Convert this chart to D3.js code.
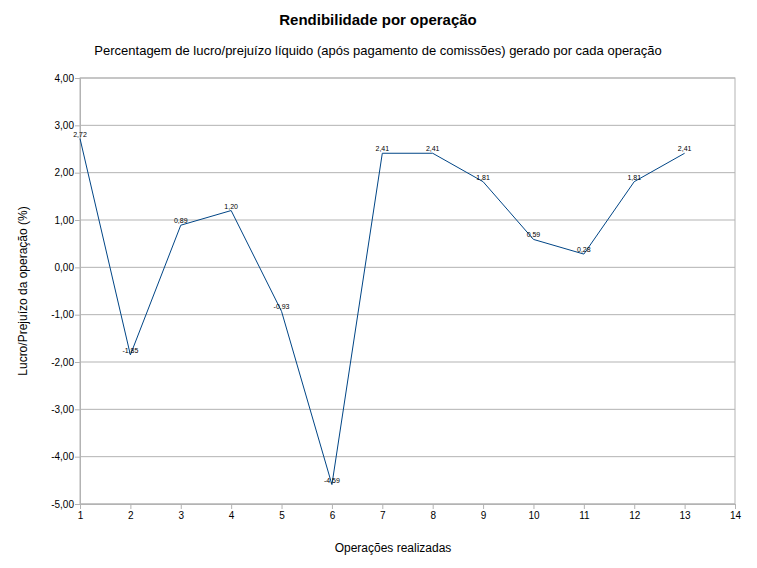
<!DOCTYPE html>
<html><head><meta charset="utf-8">
<script src="https://cdn.jsdelivr.net/npm/d3@7"></script>
<style>body{margin:0;background:#fff}text{font-family:"Liberation Sans",Arial,sans-serif}</style>
</head><body><svg id="c" width="757" height="568"></svg>
<script>
const operations=[1,2,3,4,5,6,7,8,9,10,11,12,13];
const values=[2.72,-1.85,0.89,1.20,-0.93,-4.59,2.41,2.41,1.81,0.59,0.28,1.81,2.41];
const yTicks=[4,3,2,1,0,-1,-2,-3,-4,-5];
const xTicks=[1,2,3,4,5,6,7,8,9,10,11,12,13,14];
const title="Rendibilidade por operação";
const subtitle="Percentagem de lucro/prejuízo líquido (após pagamento de comissões) gerado por cada operação";
const xLabel="Operações realizadas", yLabel="Lucro/Prejuízo da operação (%)";
const svg=d3.select("#c");
const x=d3.scaleLinear().domain([1,14]).range([80,735]);
const y=d3.scaleLinear().domain([-5,4]).range([504,78]);
const fmt=v=>d3.format(".2f")(v).replace(".",",").replace("−","-");
svg.append("g").selectAll("line").data(yTicks).join("line")
 .attr("x1",80).attr("x2",735).attr("y1",d=>y(d)).attr("y2",d=>y(d)).attr("stroke","#b3b3b3");
svg.append("rect").attr("x",80).attr("y",78).attr("width",655).attr("height",426).attr("fill","none").attr("stroke","#b3b3b3");
const ya=svg.append("g").attr("transform","translate(80,0)").call(d3.axisLeft(y).tickValues(yTicks).tickSize(5).tickFormat(fmt));
const xa=svg.append("g").attr("transform","translate(0,504)").call(d3.axisBottom(x).tickValues(xTicks).tickSize(5).tickFormat(d3.format("d")));
[ya,xa].forEach(a=>{a.select(".domain").attr("stroke","#b3b3b3");a.selectAll(".tick line").attr("stroke","#b3b3b3");a.selectAll("text").attr("font-size",10).attr("fill","#000").style("font-family","Liberation Sans, Arial, sans-serif");});
ya.selectAll("text").attr("x",-6);
svg.append("path").datum(values).attr("fill","none").attr("stroke","#004586").attr("stroke-width",1)
 .attr("d",d3.line().x((d,i)=>x(operations[i])).y(d=>y(d)));
svg.append("g").selectAll("text").data(values).join("text")
 .attr("x",(d,i)=>x(operations[i])).attr("y",d=>y(d)-2).attr("text-anchor","middle").attr("font-size",7).text(fmt);
svg.append("text").attr("x",378).attr("y",25).attr("text-anchor","middle").attr("font-size",15).attr("font-weight","bold").text(title);
svg.append("text").attr("x",378).attr("y",55).attr("text-anchor","middle").attr("font-size",13).text(subtitle);
svg.append("text").attr("x",393).attr("y",552).attr("text-anchor","middle").attr("font-size",12).text(xLabel);
svg.append("text").attr("transform","translate(27,291) rotate(-90)").attr("text-anchor","middle").attr("font-size",12).text(yLabel);
</script></body></html>
